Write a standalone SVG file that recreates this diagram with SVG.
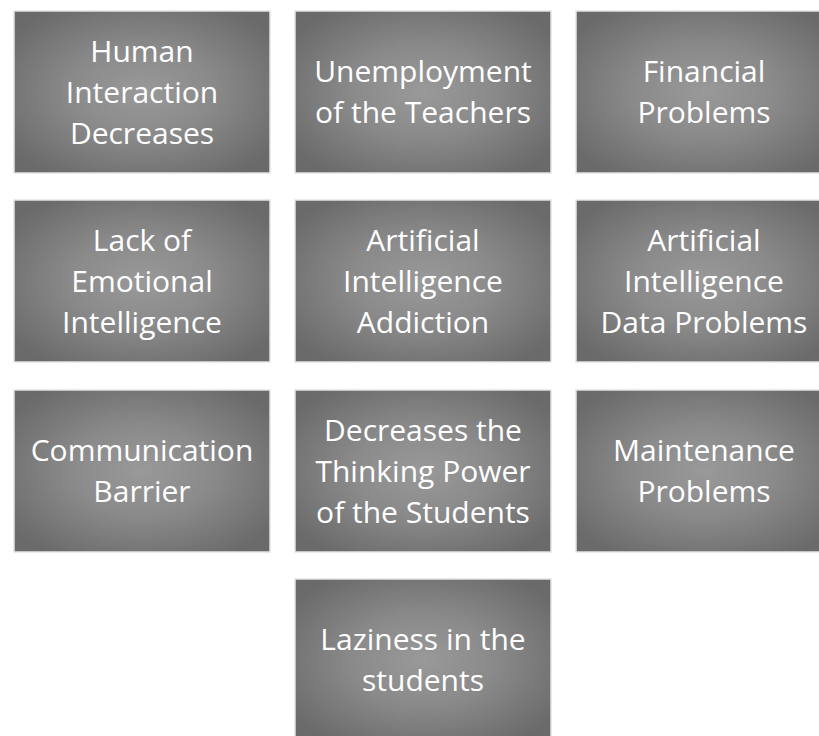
<svg xmlns="http://www.w3.org/2000/svg" width="819" height="736" viewBox="0 0 819 736">
<defs>
<radialGradient id="g" cx="0.5" cy="0.5" r="0.62">
<stop offset="0" stop-color="#999999"/>
<stop offset="0.45" stop-color="#8a8a8a"/>
<stop offset="1" stop-color="#6a6a6a"/>
</radialGradient>
<style>
.b{fill:url(#g);stroke:#e4e4e4;stroke-width:1.5}
.t{fill:#ffffff;font-family:"Open Sans","Noto Sans",sans-serif;font-size:30px;text-anchor:middle}
</style>
</defs>
<rect width="819" height="736" fill="#ffffff"/>
<g id="n1"><rect class="b" x="14" y="11" width="256" height="162"/>
<text class="t" x="142" y="62">Human</text><text class="t" x="142" y="103">Interaction</text><text class="t" x="142" y="144">Decreases</text></g>
<g id="n2"><rect class="b" x="295" y="11" width="256" height="162"/>
<text class="t" x="423" y="82">Unemployment</text><text class="t" x="423" y="123">of the Teachers</text></g>
<g id="n3"><rect class="b" x="576" y="11" width="256" height="162"/>
<text class="t" x="704" y="82">Financial</text><text class="t" x="704" y="123">Problems</text></g>
<g id="n4"><rect class="b" x="14" y="200" width="256" height="162"/>
<text class="t" x="142" y="251">Lack of</text><text class="t" x="142" y="292">Emotional</text><text class="t" x="142" y="333">Intelligence</text></g>
<g id="n5"><rect class="b" x="295" y="200" width="256" height="162"/>
<text class="t" x="423" y="251">Artificial</text><text class="t" x="423" y="292">Intelligence</text><text class="t" x="423" y="333">Addiction</text></g>
<g id="n6"><rect class="b" x="576" y="200" width="256" height="162"/>
<text class="t" x="704" y="251">Artificial</text><text class="t" x="704" y="292">Intelligence</text><text class="t" x="704" y="333">Data Problems</text></g>
<g id="n7"><rect class="b" x="14" y="390" width="256" height="162"/>
<text class="t" x="142" y="461">Communication</text><text class="t" x="142" y="502">Barrier</text></g>
<g id="n8"><rect class="b" x="295" y="390" width="256" height="162"/>
<text class="t" x="423" y="441">Decreases the</text><text class="t" x="423" y="482">Thinking Power</text><text class="t" x="423" y="523">of the Students</text></g>
<g id="n9"><rect class="b" x="576" y="390" width="256" height="162"/>
<text class="t" x="704" y="461">Maintenance</text><text class="t" x="704" y="502">Problems</text></g>
<g id="n10"><rect class="b" x="295" y="579" width="256" height="162"/>
<text class="t" x="423" y="650">Laziness in the</text><text class="t" x="423" y="691">students</text></g>
<g id="connectors"></g>
</svg>
